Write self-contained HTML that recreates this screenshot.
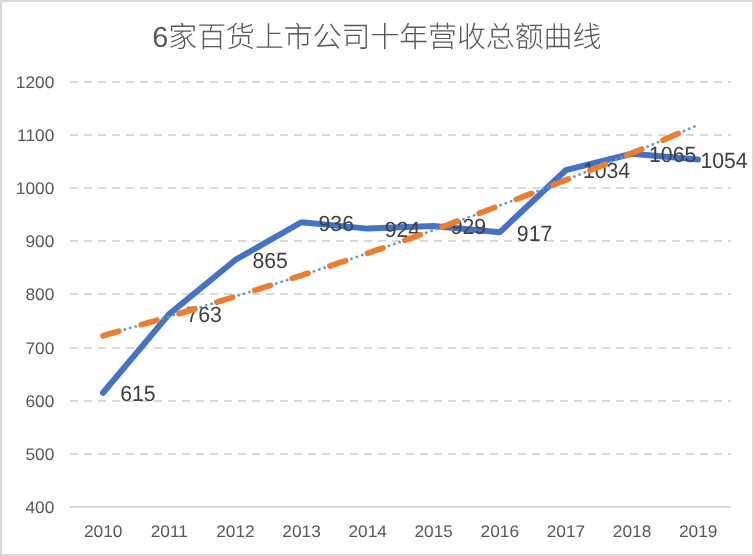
<!DOCTYPE html>
<html lang="zh"><head><meta charset="utf-8"><title>6家百货上市公司十年营收总额曲线</title>
<style>html,body{margin:0;padding:0;background:#fff}body{width:754px;height:556px;overflow:hidden;position:relative;font-family:"Liberation Sans",sans-serif}#chart{position:absolute;left:0;top:0;width:754px;height:556px;box-sizing:border-box;border:2px solid #D9D9D9;background:#fff}svg{position:absolute;left:0;top:0;display:block;will-change:transform}h1{position:absolute;left:152px;top:20px;width:450px;height:30px;margin:0;font-size:28px;font-weight:normal;line-height:30px;color:transparent;white-space:nowrap;overflow:hidden;text-align:center}text{font-family:"Liberation Sans",sans-serif;text-rendering:geometricPrecision}</style></head><body>
<div id="chart"></div>
<h1>6家百货上市公司十年营收总额曲线</h1>
<svg width="754" height="556" viewBox="0 0 754 556" role="img" aria-label="6家百货上市公司十年营收总额曲线">
<g fill="#595959">
<text x="152.33" y="46.6" font-size="28.95" textLength="449" lengthAdjust="spacing" style="font-family:'Liberation Sans','Noto Sans CJK SC',sans-serif;font-weight:300">6家百货上市公司十年营收总额曲线</text>
</g>
<g stroke="#D9D9D9" stroke-width="2" fill="none">
<line x1="70.0" y1="454.00" x2="731.0" y2="454.00" stroke-dasharray="8 6"/>
<line x1="70.0" y1="401.00" x2="731.0" y2="401.00" stroke-dasharray="8 6"/>
<line x1="70.0" y1="348.00" x2="731.0" y2="348.00" stroke-dasharray="8 6"/>
<line x1="70.0" y1="294.00" x2="731.0" y2="294.00" stroke-dasharray="8 6"/>
<line x1="70.0" y1="241.00" x2="731.0" y2="241.00" stroke-dasharray="8 6"/>
<line x1="70.0" y1="188.00" x2="731.0" y2="188.00" stroke-dasharray="8 6"/>
<line x1="70.0" y1="135.00" x2="731.0" y2="135.00" stroke-dasharray="8 6"/>
<line x1="70.0" y1="82.00" x2="731.0" y2="82.00" stroke-dasharray="8 6"/>
<line x1="70.0" y1="507.00" x2="731.0" y2="507.00"/>
</g>
<g fill="#595959" font-size="16.80">
<text transform="translate(54.30,513.10) scale(1.031,1)" text-anchor="end">400</text>
<text transform="translate(54.30,460.10) scale(1.031,1)" text-anchor="end">500</text>
<text transform="translate(54.30,407.10) scale(1.031,1)" text-anchor="end">600</text>
<text transform="translate(54.30,354.10) scale(1.031,1)" text-anchor="end">700</text>
<text transform="translate(54.30,300.10) scale(1.031,1)" text-anchor="end">800</text>
<text transform="translate(54.30,247.10) scale(1.031,1)" text-anchor="end">900</text>
<text transform="translate(54.30,194.10) scale(1.031,1)" text-anchor="end">1000</text>
<text transform="translate(54.30,141.10) scale(1.031,1)" text-anchor="end">1100</text>
<text transform="translate(54.30,88.10) scale(1.031,1)" text-anchor="end">1200</text>
<text transform="translate(103.25,537.20) scale(1.031,1)" text-anchor="middle">2010</text>
<text transform="translate(169.35,537.20) scale(1.031,1)" text-anchor="middle">2011</text>
<text transform="translate(235.45,537.20) scale(1.031,1)" text-anchor="middle">2012</text>
<text transform="translate(301.55,537.20) scale(1.031,1)" text-anchor="middle">2013</text>
<text transform="translate(367.65,537.20) scale(1.031,1)" text-anchor="middle">2014</text>
<text transform="translate(433.75,537.20) scale(1.031,1)" text-anchor="middle">2015</text>
<text transform="translate(499.85,537.20) scale(1.031,1)" text-anchor="middle">2016</text>
<text transform="translate(565.95,537.20) scale(1.031,1)" text-anchor="middle">2017</text>
<text transform="translate(632.05,537.20) scale(1.031,1)" text-anchor="middle">2018</text>
<text transform="translate(698.15,537.20) scale(1.031,1)" text-anchor="middle">2019</text>
</g>
<polyline points="103.05,392.78 169.15,314.16 235.25,259.97 301.35,222.25 367.45,228.62 433.55,225.97 499.65,232.34 565.75,170.19 631.85,153.72 697.95,159.56" fill="none" stroke="#4472C4" stroke-width="6" stroke-linecap="round" stroke-linejoin="round"/>
<g fill="#404040" font-size="22.00">
<text transform="translate(120.25,401.08) scale(0.965,1)">615</text>
<text transform="translate(186.35,322.46) scale(0.965,1)">763</text>
<text transform="translate(252.45,268.27) scale(0.965,1)">865</text>
<text transform="translate(318.55,230.55) scale(0.965,1)">936</text>
<text transform="translate(384.65,236.93) scale(0.965,1)">924</text>
<text transform="translate(450.75,234.27) scale(0.965,1)">929</text>
<text transform="translate(516.85,240.64) scale(0.965,1)">917</text>
<text transform="translate(582.95,178.49) scale(0.965,1)">1034</text>
<text transform="translate(649.05,162.02) scale(0.965,1)">1065</text>
<text transform="translate(700.40,167.86) scale(0.965,1)">1054</text>
</g>
<polyline points="103.05,335.67 106.35,334.74 109.66,333.80 112.96,332.86 116.27,331.92 119.57,330.98 122.88,330.03 126.19,329.08 129.49,328.13 132.79,327.18 136.10,326.22 139.41,325.27 142.71,324.31 146.01,323.35 149.32,322.38 152.62,321.41 155.93,320.45 159.24,319.47 162.54,318.50 165.84,317.52 169.15,316.55 172.45,315.56 175.76,314.58 179.06,313.60 182.37,312.61 185.67,311.62 188.98,310.62 192.28,309.63 195.59,308.63 198.90,307.63 202.20,306.63 205.50,305.62 208.81,304.62 212.11,303.61 215.42,302.59 218.72,301.58 222.03,300.56 225.33,299.54 228.64,298.52 231.94,297.50 235.25,296.47 238.55,295.44 241.86,294.41 245.16,293.37 248.47,292.33 251.77,291.29 255.08,290.25 258.38,289.21 261.69,288.16 265.00,287.11 268.30,286.06 271.60,285.00 274.91,283.95 278.21,282.89 281.52,281.82 284.82,280.76 288.13,279.69 291.43,278.62 294.74,277.55 298.04,276.47 301.35,275.39 304.65,274.31 307.96,273.23 311.26,272.14 314.57,271.05 317.88,269.96 321.18,268.87 324.48,267.77 327.79,266.67 331.09,265.57 334.40,264.46 337.70,263.35 341.01,262.24 344.31,261.13 347.62,260.02 350.92,258.90 354.23,257.78 357.53,256.65 360.84,255.53 364.14,254.40 367.45,253.26 370.75,252.13 374.06,250.99 377.37,249.85 380.67,248.71 383.97,247.56 387.28,246.41 390.58,245.26 393.89,244.11 397.19,242.95 400.50,241.79 403.80,240.63 407.11,239.46 410.42,238.29 413.72,237.12 417.02,235.95 420.33,234.77 423.63,233.59 426.94,232.41 430.25,231.22 433.55,230.04 436.85,228.84 440.16,227.65 443.46,226.45 446.77,225.25 450.07,224.05 453.38,222.84 456.68,221.64 459.99,220.42 463.29,219.21 466.60,217.99 469.90,216.77 473.21,215.55 476.51,214.32 479.82,213.09 483.12,211.86 486.43,210.62 489.73,209.38 493.04,208.14 496.34,206.90 499.65,205.65 502.95,204.40 506.26,203.15 509.56,201.89 512.87,200.63 516.17,199.37 519.48,198.10 522.78,196.83 526.09,195.56 529.39,194.28 532.70,193.01 536.00,191.72 539.31,190.44 542.62,189.15 545.92,187.86 549.22,186.57 552.53,185.27 555.83,183.97 559.14,182.67 562.44,181.36 565.75,180.05 569.06,178.74 572.36,177.42 575.66,176.10 578.97,174.78 582.27,173.45 585.58,172.12 588.88,170.79 592.19,169.46 595.49,168.12 598.80,166.78 602.11,165.43 605.41,164.08 608.72,162.73 612.02,161.38 615.32,160.02 618.63,158.66 621.93,157.29 625.24,155.92 628.54,154.55 631.85,153.18 635.15,151.80 638.46,150.42 641.76,149.03 645.07,147.64 648.38,146.25 651.68,144.86 654.98,143.46 658.29,142.05 661.59,140.65 664.90,139.24 668.21,137.83 671.51,136.41 674.81,134.99 678.12,133.57 681.42,132.15 684.73,130.72 688.03,129.28 691.34,127.85 694.64,126.41 697.95,124.96" fill="none" stroke="#5B9BD5" stroke-width="2.8" stroke-linecap="round" stroke-dasharray="0.01 5.645"/>
<polyline points="103.05,335.67 106.35,334.74 109.66,333.80 112.96,332.86 116.27,331.92 119.57,330.98 122.88,330.03 126.19,329.08 129.49,328.13 132.79,327.18 136.10,326.22 139.41,325.27 142.71,324.31 146.01,323.35 149.32,322.38 152.62,321.41 155.93,320.45 159.24,319.47 162.54,318.50 165.84,317.52 169.15,316.55 172.45,315.56 175.76,314.58 179.06,313.60 182.37,312.61 185.67,311.62 188.98,310.62 192.28,309.63 195.59,308.63 198.90,307.63 202.20,306.63 205.50,305.62 208.81,304.62 212.11,303.61 215.42,302.59 218.72,301.58 222.03,300.56 225.33,299.54 228.64,298.52 231.94,297.50 235.25,296.47 238.55,295.44 241.86,294.41 245.16,293.37 248.47,292.33 251.77,291.29 255.08,290.25 258.38,289.21 261.69,288.16 265.00,287.11 268.30,286.06 271.60,285.00 274.91,283.95 278.21,282.89 281.52,281.82 284.82,280.76 288.13,279.69 291.43,278.62 294.74,277.55 298.04,276.47 301.35,275.39 304.65,274.31 307.96,273.23 311.26,272.14 314.57,271.05 317.88,269.96 321.18,268.87 324.48,267.77 327.79,266.67 331.09,265.57 334.40,264.46 337.70,263.35 341.01,262.24 344.31,261.13 347.62,260.02 350.92,258.90 354.23,257.78 357.53,256.65 360.84,255.53 364.14,254.40 367.45,253.26 370.75,252.13 374.06,250.99 377.37,249.85 380.67,248.71 383.97,247.56 387.28,246.41 390.58,245.26 393.89,244.11 397.19,242.95 400.50,241.79 403.80,240.63 407.11,239.46 410.42,238.29 413.72,237.12 417.02,235.95 420.33,234.77 423.63,233.59 426.94,232.41 430.25,231.22 433.55,230.04 436.85,228.84 440.16,227.65 443.46,226.45 446.77,225.25 450.07,224.05 453.38,222.84 456.68,221.64 459.99,220.42 463.29,219.21 466.60,217.99 469.90,216.77 473.21,215.55 476.51,214.32 479.82,213.09 483.12,211.86 486.43,210.62 489.73,209.38 493.04,208.14 496.34,206.90 499.65,205.65 502.95,204.40 506.26,203.15 509.56,201.89 512.87,200.63 516.17,199.37 519.48,198.10 522.78,196.83 526.09,195.56 529.39,194.28 532.70,193.01 536.00,191.72 539.31,190.44 542.62,189.15 545.92,187.86 549.22,186.57 552.53,185.27 555.83,183.97 559.14,182.67 562.44,181.36 565.75,180.05 569.06,178.74 572.36,177.42 575.66,176.10 578.97,174.78 582.27,173.45 585.58,172.12 588.88,170.79 592.19,169.46 595.49,168.12 598.80,166.78 602.11,165.43 605.41,164.08 608.72,162.73 612.02,161.38 615.32,160.02 618.63,158.66 621.93,157.29 625.24,155.92 628.54,154.55 631.85,153.18 635.15,151.80 638.46,150.42 641.76,149.03 645.07,147.64 648.38,146.25 651.68,144.86 654.98,143.46 658.29,142.05 661.59,140.65 664.90,139.24 668.21,137.83 671.51,136.41 674.81,134.99 678.12,133.57 681.42,132.15 684.73,130.72 688.03,129.28 691.34,127.85 694.64,126.41 697.95,124.96" fill="none" stroke="#ED7D31" stroke-width="5.8" stroke-linecap="round" stroke-dasharray="16.40 23.17"/>
</svg></body></html>
